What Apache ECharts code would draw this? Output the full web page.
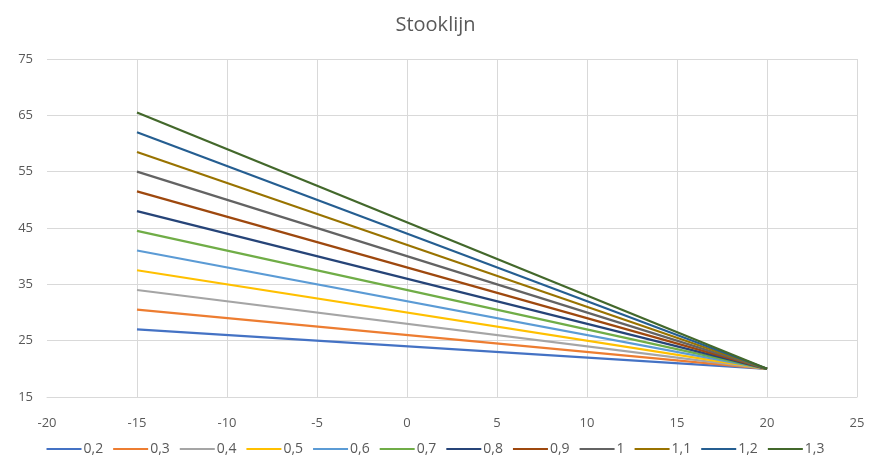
<!DOCTYPE html>
<html>
<head>
<meta charset="utf-8">
<script src="https://cdn.jsdelivr.net/npm/echarts@6/dist/echarts.min.js"></script>
<style>html,body{margin:0;padding:0;background:#fff;}#c{width:871px;height:468px;}</style>
</head>
<body>
<div id="c"></div>
<script>
var xValues = [-15, 20];
var seriesNames = ['0,2','0,3','0,4','0,5','0,6','0,7','0,8','0,9','1','1,1','1,2','1,3'];
var startValues = [27, 30.5, 34, 37.5, 41, 44.5, 48, 51.5, 55, 58.5, 62, 65.5];
var endValues = [20, 20, 20, 20, 20, 20, 20, 20, 20, 20, 20, 20];
var colors = ['#4472C4','#ED7D31','#A5A5A5','#FFC000','#5B9BD5','#70AD47','#264478','#9E480E','#636363','#997300','#255E91','#43682B'];

var font = 'Open Sans, Liberation Sans, sans-serif';
var series = seriesNames.map(function(n, i){
  return {
    name: n, type: 'line', showSymbol: false, symbol: 'none',
    data: [[xValues[0], startValues[i]], [xValues[1], endValues[i]]],
    lineStyle: {width: 2.2, color: colors[i]}, itemStyle: {color: colors[i]}
  };
});
var chart = echarts.init(document.getElementById('c'));
chart.setOption({
  animation: false,
  color: colors,
  title: {text: 'Stooklijn', left: 'center', top: 10, textStyle: {fontFamily: font, fontSize: 20, fontWeight: 'normal', color: '#595959'}},
  grid: {left: 47, right: 14, top: 59, bottom: 71},
  xAxis: {type: 'value', min: -20, max: 25, interval: 5,
    axisLine: {show: true, onZero: false, lineStyle: {color: '#d9d9d9'}},
    axisTick: {show: false},
    axisLabel: {color: '#595959', fontFamily: font, fontSize: 13, margin: 20},
    splitLine: {show: true, showMinLine: false, lineStyle: {color: '#d9d9d9'}}},
  yAxis: {type: 'value', min: 15, max: 75, interval: 10,
    axisLine: {show: false}, axisTick: {show: false},
    axisLabel: {color: '#595959', fontFamily: font, fontSize: 13, margin: 14},
    splitLine: {show: true, lineStyle: {color: '#d9d9d9'}}},
  legend: {bottom: 7, left: 'center', itemWidth: 35, itemHeight: 2, itemGap: 10, icon: 'rect',
    textStyle: {color: '#595959', fontFamily: font, fontSize: 14, padding: [0,0,0,-3]}},
  series: series
});
</script>
</body>
</html>
